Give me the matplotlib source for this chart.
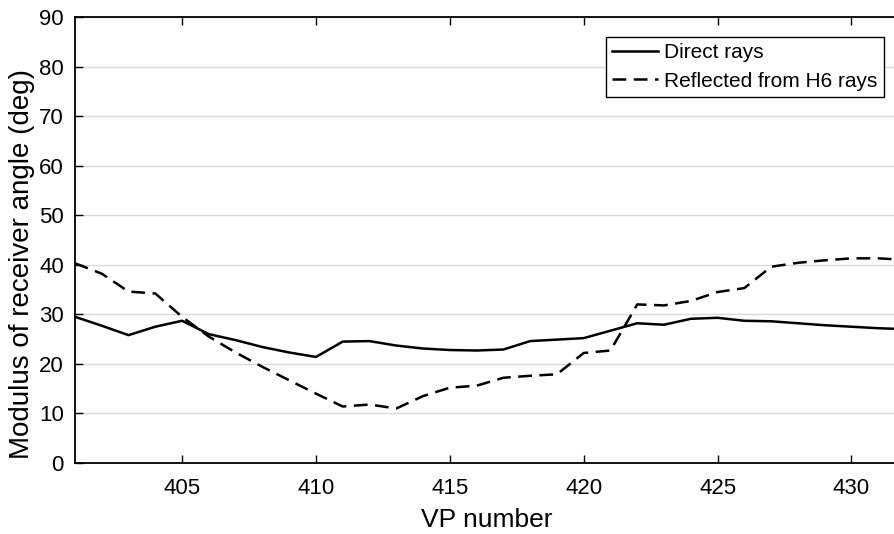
import numpy as np
import matplotlib.pyplot as plt

plt.rcParams['font.family'] = ['Liberation Sans', 'DejaVu Sans']

# VP numbers and receiver angle moduli (deg)
vp = np.arange(401, 433)
direct = [29.5, 27.7, 25.8, 27.5, 28.7, 26.0, 24.8, 23.4, 22.3, 21.4,
          24.5, 24.6, 23.7, 23.1, 22.8, 22.7, 22.9, 24.6, 24.9, 25.2,
          26.7, 28.2, 27.9, 29.1, 29.3, 28.7, 28.6, 28.2, 27.8, 27.5,
          27.2, 27.0]
reflected = [40.3, 38.2, 34.6, 34.2, 29.5, 25.5, 22.3, 19.4, 16.7, 14.0,
             11.4, 11.8, 11.0, 13.5, 15.2, 15.6, 17.2, 17.6, 17.9, 22.2,
             22.7, 32.0, 31.8, 32.7, 34.5, 35.3, 39.6, 40.4, 40.9, 41.3,
             41.3, 41.0]

fig = plt.figure(figsize=(8.95, 5.34), dpi=100)
ax = fig.add_axes([75 / 895, 71 / 534, 830 / 895, 446 / 534])

ax.plot(vp, direct, color='black', lw=1.8, label='Direct rays')
ax.plot(vp, reflected, color='black', lw=1.8, linestyle=(0, (5.5, 3)),
        label='Reflected from H6 rays')

ax.set_xlim(401, 432)
ax.set_ylim(0, 90)
ax.set_xticks([405, 410, 415, 420, 425, 430])
ax.set_yticks(np.arange(0, 91, 10))

ax.yaxis.grid(True, color='#d9d9d9', lw=1.0)
ax.set_axisbelow(True)

ax.tick_params(axis='x', direction='in', top=True, length=6, width=1,
               labelsize=16, pad=11)
ax.tick_params(axis='y', direction='in', length=6, width=1,
               labelsize=16, pad=8)
for side in ('left', 'bottom', 'top'):
    ax.spines[side].set_linewidth(1.3)
ax.spines['right'].set_visible(False)

ax.set_xlabel('VP number', fontsize=19)
ax.set_ylabel('Modulus of receiver angle (deg)', fontsize=20)
ax.xaxis.set_label_coords(412 / 830, -45 / 446)
ax.yaxis.set_label_coords(-40 / 830, 0.447)

leg = ax.legend(loc='upper right', bbox_to_anchor=(884 / 895, 1 - 37 / 534),
                bbox_transform=fig.transFigure, borderaxespad=0,
                fontsize=15, fancybox=False, framealpha=1,
                edgecolor='black', handlelength=2.2, handletextpad=0.3,
                labelspacing=0.45, borderpad=0.3)
leg.get_frame().set_linewidth(1.0)

fig.savefig('out.png', dpi=100)
